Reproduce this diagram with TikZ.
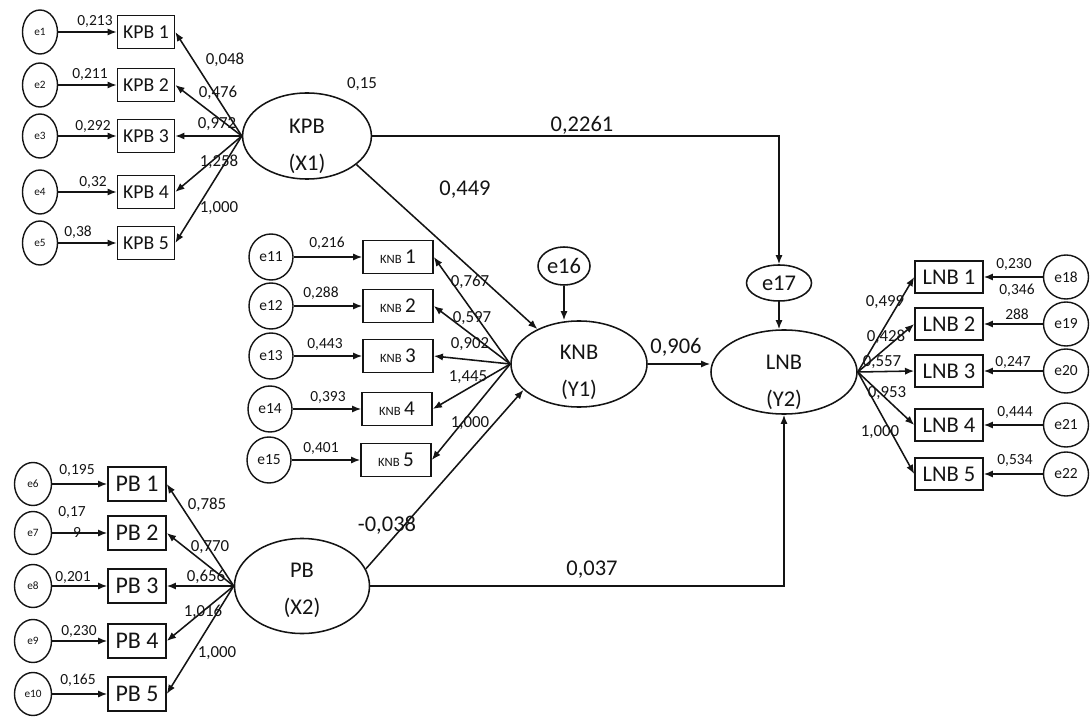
\documentclass[tikz,border=0pt]{standalone}
\usepackage{fontspec}
\setmainfont{Carlito}
\usetikzlibrary{arrows.meta, shapes.geometric}
\definecolor{Ink}{HTML}{141414}
\tikzset{
  latent/.style={draw=Ink, ellipse, line width=1.1pt, inner sep=0pt, minimum width=3.4cm, minimum height=2.15cm},
  lattext/.style={align=center, inner sep=0pt, text=Ink, yshift=-6pt, font=\fontsize{16}{26}\selectfont},
  errsmall/.style={draw=Ink, ellipse, line width=1pt, inner sep=0pt, minimum width=0.875cm, minimum height=1.1cm, text=Ink, font=\fontsize{8}{9}\selectfont},
  errmid/.style={draw=Ink, ellipse, line width=1pt, inner sep=0pt, minimum width=1.1cm, minimum height=1.15cm, text=Ink, font=\fontsize{11}{12}\selectfont},
  errbig/.style={draw=Ink, ellipse, line width=1.1pt, inner sep=0pt, text=Ink, font=\fontsize{16}{18}\selectfont},
  kpbbox/.style={draw=Ink, line width=1.1pt, inner sep=1pt, minimum width=1.425cm, minimum height=0.825cm, text=Ink, font=\fontsize{14}{15}\selectfont},
  knbbox/.style={draw=Ink, line width=1.1pt, inner sep=1pt, minimum width=1.75cm, minimum height=0.825cm, text=Ink, font=\fontsize{15}{16}\selectfont},
  pbbox/.style={draw=Ink, line width=1.1pt, inner sep=1pt, minimum width=1.45cm, minimum height=0.85cm, text=Ink, font=\fontsize{17}{18}\selectfont},
  lnbbox/.style={draw=Ink, line width=1.1pt, inner sep=1pt, minimum width=1.7cm, minimum height=0.8cm, text=Ink, font=\fontsize{16}{17}\selectfont},
  coef/.style={inner sep=1pt, text=Ink, font=\fontsize{16}{17}\selectfont},
  load/.style={inner sep=1pt, text=Ink, font=\fontsize{12}{13}\selectfont},
  evar/.style={inner sep=1pt, text=Ink, font=\fontsize{11}{12}\selectfont},
  arrow/.style={-{Latex[length=2.3mm, width=1.8mm]}, line width=1.1pt, draw=Ink}
}
\newcommand{\knbtxt}[1]{{\fontsize{9}{10}\selectfont KNB}\,#1}

\begin{document}
\begin{tikzpicture}[x=0.025cm, y=-0.025cm]
\useasboundingbox (0,0) rectangle (1092,721);

% latent variables
\node[latent, minimum width=3.22cm, label={[lattext, name=kpbt, yshift=-1.5pt]center:KPB\\(X1)}] (kpb) at (307,136) {};
\node[latent, label={[lattext, name=knbt]center:KNB\\(Y1)}] (knb) at (579,364) {};
\node[latent, minimum width=3.65cm, minimum height=2.1cm, label={[lattext, name=lnbt, yshift=-1.5pt]center:LNB\\(Y2)}] (lnb) at (784,372) {};
\node[latent, minimum width=3.375cm, minimum height=2.375cm, label={[lattext, name=pbt, yshift=3pt]center:PB\\(X2)}] (pb) at (302,586) {};
\node[errbig, minimum width=1.3cm, minimum height=0.95cm] (e16) at (564,266) {e16};
\node[errbig, minimum width=1.625cm, minimum height=0.9cm] (e17) at (779,283) {e17};

% KPB block
\node[errsmall] (e1) at (40,32) {e1};
\node[errsmall] (e2) at (40,85) {e2};
\node[errsmall] (e3) at (40,136) {e3};
\node[errsmall] (e4) at (40,192) {e4};
\node[errsmall] (e5) at (40,243) {e5};
\node[kpbbox] (kpb1) at (146,32) {KPB 1};
\node[kpbbox] (kpb2) at (146,85) {KPB 2};
\node[kpbbox] (kpb3) at (146,136) {KPB 3};
\node[kpbbox] (kpb4) at (146,192) {KPB 4};
\node[kpbbox] (kpb5) at (146,243) {KPB 5};
\draw[arrow] (e1) -- (kpb1);
\draw[arrow] (e2) -- (kpb2);
\draw[arrow] (e3) -- (kpb3);
\draw[arrow] (e4) -- (kpb4);
\draw[arrow] (e5) -- (kpb5);
\draw[arrow] (kpb.west) -- (kpb1.east);
\draw[arrow] (kpb.west) -- (kpb2.east);
\draw[arrow] (kpb.west) -- (kpb3.east);
\draw[arrow] (kpb.west) -- (kpb4.east);
\draw[arrow] (kpb.west) -- (kpb5.east);
\node[evar] (v1) at (95,21) {0,213};
\node[evar] (v2) at (90,74) {0,211};
\node[evar] (v3) at (93,126) {0,292};
\node[evar] (v4) at (93,182) {0,32};
\node[evar] (v5) at (78,232) {0,38};
\node[load] (l1) at (225,60) {0,048};
\node[load] (l2) at (218,93) {0,476};
\node[load] (l3) at (217,124) {0,972};
\node[load] (l4) at (219,162) {1,258};
\node[load] (l5) at (219,208) {1,000};
\node[load] (r1) at (362,84) {0,15};

% KNB block
\node[errmid] (e11) at (271,257) {e11};
\node[errmid] (e12) at (271,306) {e12};
\node[errmid] (e13) at (271,356) {e13};
\node[errmid] (e14) at (270,409) {e14};
\node[errmid] (e15) at (269,460) {e15};
\node[knbbox] (knb1) at (398,257) {\knbtxt{1}};
\node[knbbox] (knb2) at (398,306) {\knbtxt{2}};
\node[knbbox] (knb3) at (398,356) {\knbtxt{3}};
\node[knbbox] (knb4) at (397,409) {\knbtxt{4}};
\node[knbbox] (knb5) at (396,460) {\knbtxt{5}};
\draw[arrow] (e11) -- (knb1);
\draw[arrow] (e12) -- (knb2);
\draw[arrow] (e13) -- (knb3);
\draw[arrow] (e14) -- (knb4);
\draw[arrow] (e15) -- (knb5);
\draw[arrow] (knb.west) -- (knb1.east);
\draw[arrow] (knb.west) -- (knb2.east);
\draw[arrow] (knb.west) -- (knb3.east);
\draw[arrow] (knb.west) -- (knb4.east);
\draw[arrow] (knb.west) -- (knb5.east);
\node[evar] (v11) at (327,243) {0,216};
\node[evar] (v12) at (321,293) {0,288};
\node[evar] (v13) at (325,344) {0,443};
\node[evar] (v14) at (328,397) {0,393};
\node[evar] (v15) at (321,448) {0,401};
\node[load] (l11) at (470,282) {0,767};
\node[load] (l12) at (472,318) {0,597};
\node[load] (l13) at (470,344) {0,902};
\node[load] (l14) at (468,377) {1,445};
\node[load] (l15) at (470,423) {1,000};

% PB block
\node[errsmall, minimum width=0.925cm, minimum height=1.075cm] (e6) at (33,484) {e6};
\node[errsmall, minimum width=0.925cm, minimum height=1.075cm] (e7) at (33,533) {e7};
\node[errsmall, minimum width=0.925cm, minimum height=1.075cm] (e8) at (33,586) {e8};
\node[errsmall, minimum width=0.925cm, minimum height=1.075cm] (e9) at (33,641) {e9};
\node[errsmall, minimum width=0.925cm, minimum height=1.075cm] (e10) at (33,694) {e10};
\node[pbbox] (pb1) at (137,484) {PB 1};
\node[pbbox] (pb2) at (137,533) {PB 2};
\node[pbbox] (pb3) at (137,586) {PB 3};
\node[pbbox] (pb4) at (137,641) {PB 4};
\node[pbbox] (pb5) at (137,694) {PB 5};
\draw[arrow] (e6) -- (pb1);
\draw[arrow] (e7) -- (pb2);
\draw[arrow] (e8) -- (pb3);
\draw[arrow] (e9) -- (pb4);
\draw[arrow] (e10) -- (pb5);
\draw[arrow] (pb.west) -- (pb1.east);
\draw[arrow] (pb.west) -- (pb2.east);
\draw[arrow] (pb.west) -- (pb3.east);
\draw[arrow] (pb.west) -- (pb4.east);
\draw[arrow] (pb.west) -- (pb5.east);
\node[evar] (v6) at (77,470) {0,195};
\node[evar] (v7) at (72,512) {0,17};
\node[evar] (v7b) at (77,532) {9};
\node[evar] (v8) at (73,577) {0,201};
\node[evar] (v9) at (79,631) {0,230};
\node[evar] (v10) at (78,680) {0,165};
\node[load] (l6) at (207,505) {0,785};
\node[load] (l7) at (210,547) {0,770};
\node[load] (l8) at (206,577) {0,656};
\node[load] (l9) at (203,612) {1,016};
\node[load] (l10) at (217,653) {1,000};

% LNB block
\node[errmid, minimum width=1.125cm, minimum height=1.1cm] (e18) at (1066,277) {e18};
\node[errmid, minimum width=1.125cm, minimum height=1.1cm] (e19) at (1066,324) {e19};
\node[errmid, minimum width=1.125cm, minimum height=1.1cm] (e20) at (1066,371) {e20};
\node[errmid, minimum width=1.125cm, minimum height=1.1cm] (e21) at (1066,425) {e21};
\node[errmid, minimum width=1.125cm, minimum height=1.1cm] (e22) at (1066,474) {e22};
\node[lnbbox] (lnb1) at (949,277) {LNB 1};
\node[lnbbox] (lnb2) at (949,324) {LNB 2};
\node[lnbbox] (lnb3) at (949,371) {LNB 3};
\node[lnbbox] (lnb4) at (949,425) {LNB 4};
\node[lnbbox] (lnb5) at (949,474) {LNB 5};
\draw[arrow] (e18) -- (lnb1);
\draw[arrow] (e19) -- (lnb2);
\draw[arrow] (e20) -- (lnb3);
\draw[arrow] (e21) -- (lnb4);
\draw[arrow] (e22) -- (lnb5);
\draw[arrow] (lnb.east) -- (lnb1.west);
\draw[arrow] (lnb.east) -- (lnb2.west);
\draw[arrow] (lnb.east) -- (lnb3.west);
\draw[arrow] (lnb.east) -- (lnb4.west);
\draw[arrow] (lnb.east) -- (lnb5.west);
\node[evar] (v18) at (1014,264) {0,230};
\node[evar] (v18b) at (1017,290) {0,346};
\node[evar] (v19) at (1017,314) {288};
\node[evar] (v20) at (1013,362) {0,247};
\node[evar] (v21) at (1015,412) {0,444};
\node[evar] (v22) at (1015,460) {0,534};
\node[load] (l18) at (885,302) {0,499};
\node[load] (l19) at (886,337) {0,428};
\node[load] (l20) at (882,362) {0,557};
\node[load] (l21) at (887,393) {0,953};
\node[load] (l22) at (880,432) {1,000};

% structural paths
\draw[arrow] (kpb.east) -| (e17.north);
\draw[arrow] (kpb.-30) -- (knb.140);
\draw[arrow] (pb.15) -- (knb.205);
\draw[arrow] (knb.east) -- (knb.east -| lnb.west);
\draw[arrow] (pb.east) -| (lnb.south);
\draw[arrow] (e16) -- (e16 |- knb.north);
\draw[arrow] (e17) -- (e17 |- lnb.north);
\node[coef] (c1) at (582,125) {0,2261};
\node[coef] (c2) at (465,190) {0,449};
\node[coef] (c3) at (676,347) {0,906};
\node[coef] (c4) at (387,525) {-0,038};
\node[coef] (c5) at (592,570) {0,037};
\end{tikzpicture}
\end{document}
